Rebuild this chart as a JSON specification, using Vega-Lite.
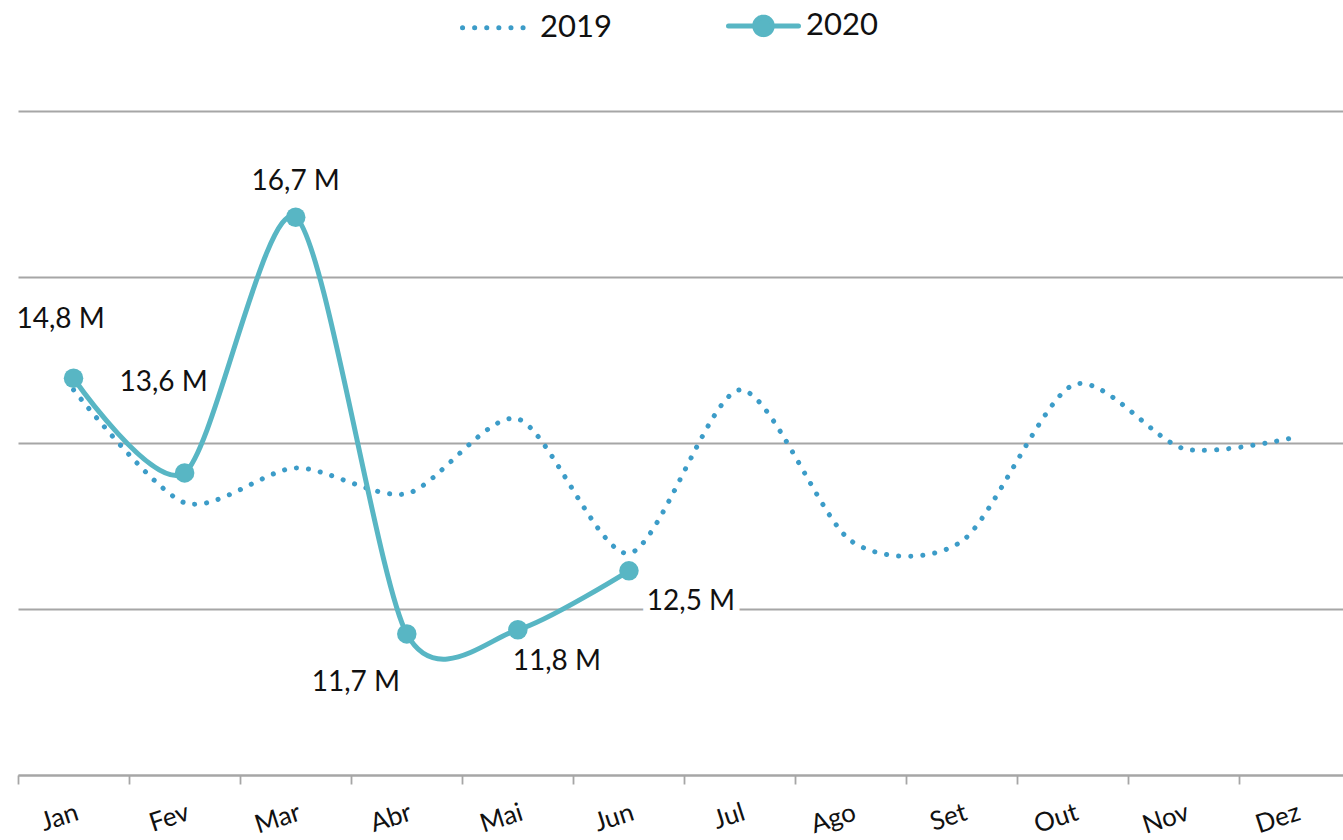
{
  "$schema": "https://vega.github.io/schema/vega-lite/v6.json",
  "width": 1325,
  "height": 664,
  "autosize": {"type": "none"},
  "padding": {"left": 18, "top": 111, "right": 0, "bottom": 65},
  "background": "white",
  "config": {"view": {"stroke": null}, "font": "Lato"},
  "data": {
    "values": [
      {"mes": "Jan", "ano": "2019", "v": 14.64},
      {"mes": "Fev", "ano": "2019", "v": 13.28},
      {"mes": "Mar", "ano": "2019", "v": 13.70},
      {"mes": "Abr", "ano": "2019", "v": 13.39},
      {"mes": "Mai", "ano": "2019", "v": 14.29},
      {"mes": "Jun", "ano": "2019", "v": 12.67},
      {"mes": "Jul", "ano": "2019", "v": 14.64},
      {"mes": "Ago", "ano": "2019", "v": 12.82},
      {"mes": "Set", "ano": "2019", "v": 12.82},
      {"mes": "Out", "ano": "2019", "v": 14.70},
      {"mes": "Nov", "ano": "2019", "v": 13.93},
      {"mes": "Dez", "ano": "2019", "v": 14.07},
      {"mes": "Jan", "ano": "2020", "v": 14.78},
      {"mes": "Fev", "ano": "2020", "v": 13.64},
      {"mes": "Mar", "ano": "2020", "v": 16.72},
      {"mes": "Abr", "ano": "2020", "v": 11.70},
      {"mes": "Mai", "ano": "2020", "v": 11.75},
      {"mes": "Jun", "ano": "2020", "v": 12.46}
    ]
  },
  "encoding": {
    "x": {
      "field": "mes", "type": "ordinal",
      "sort": ["Jan","Fev","Mar","Abr","Mai","Jun","Jul","Ago","Set","Out","Nov","Dez"],
      "scale": {"type": "band", "range": [0, 1333], "paddingInner": 0, "paddingOuter": 0},
      "axis": {
        "title": null, "grid": false, "bandPosition": 0,
        "tickSize": 9, "tickColor": "#A6A6A6", "tickWidth": 1.8,
        "domainColor": "#A6A6A6", "domainWidth": 1.8,
        "labelAngle": -18, "labelAlign": "right", "labelBaseline": "top", "labelPadding": 15,
        "labelFontSize": 26, "labelFont": "Lato", "labelColor": "#111111"
      }
    },
    "y": {
      "field": "v", "type": "quantitative",
      "scale": {"domain": [10, 18], "nice": false, "zero": false},
      "axis": {
        "title": null, "values": [10, 12, 14, 16, 18], "grid": true,
        "gridColor": "#A6A6A6", "gridWidth": 1.8,
        "labels": false, "ticks": false, "domain": false
      }
    }
  },
  "layer": [
    {
      "transform": [{"filter": "datum.ano == '2019'"}],
      "mark": {"type": "line", "interpolate": "cardinal", "tension": 0.2, "strokeWidth": 5, "strokeDash": [0.1, 12], "strokeCap": "round"},
      "encoding": {
        "color": {
          "field": "ano", "type": "nominal",
          "scale": {"domain": ["2019", "2020"], "range": ["#3C9CC8", "#58B6C4"]},
          "legend": {
            "title": null, "orient": "none", "legendX": 442, "legendY": -123,
            "direction": "horizontal", "symbolSize": 4900, "symbolStrokeWidth": 5,
            "labelFontSize": 31, "labelFont": "Lato", "labelColor": "#111111",
            "labelOffset": 5, "columnPadding": 106, "padding": 0,
            "encode": {
              "symbols": {
                "update": {
                  "shape": {"signal": "datum.value == '2020' ? 'M-1,0L1,0M-0.25,0A0.25,0.25,0,1,1,0.25,0A0.25,0.25,0,1,1,-0.25,0Z' : 'M-1,0L1,0'"},
                  "strokeDash": {"signal": "datum.value == '2019' ? [0.1, 12] : [1, 0]"},
                  "strokeCap": {"value": "round"},
                  "fill": {"signal": "datum.value == '2020' ? '#58B6C4' : 'transparent'"},
                  "opacity": {"value": 1}
                }
              }
            }
          }
        }
      }
    },
    {
      "transform": [{"filter": "datum.ano == '2020'"}],
      "mark": {"type": "line", "interpolate": "cardinal", "tension": 0.2, "strokeWidth": 5, "strokeCap": "round"},
      "encoding": {"color": {"field": "ano", "type": "nominal"}}
    },
    {
      "transform": [{"filter": "datum.ano == '2020'"}],
      "mark": {"type": "point", "filled": true, "size": 380, "opacity": 1},
      "encoding": {"color": {"field": "ano", "type": "nominal"}}
    },
    {
      "transform": [{"filter": "datum.ano == '2020' && datum.mes == 'Jan'"}, {"calculate": "replace(format(datum.v, '.1f'), '.', ',') + ' M'", "as": "lbl"}],
      "mark": {"type": "text", "fontSize": 28, "font": "Lato", "color": "#111111", "dx": -13, "dy": -58},
      "encoding": {"text": {"field": "lbl"}}
    },
    {
      "transform": [{"filter": "datum.ano == '2020' && datum.mes == 'Fev'"}, {"calculate": "replace(format(datum.v, '.1f'), '.', ',') + ' M'", "as": "lbl"}],
      "mark": {"type": "text", "fontSize": 28, "font": "Lato", "color": "#111111", "dx": -21, "dy": -90},
      "encoding": {"text": {"field": "lbl"}}
    },
    {
      "transform": [{"filter": "datum.ano == '2020' && datum.mes == 'Mar'"}, {"calculate": "replace(format(datum.v, '.1f'), '.', ',') + ' M'", "as": "lbl"}],
      "mark": {"type": "text", "fontSize": 28, "font": "Lato", "color": "#111111", "dx": 0, "dy": -35},
      "encoding": {"text": {"field": "lbl"}}
    },
    {
      "transform": [{"filter": "datum.ano == '2020' && datum.mes == 'Abr'"}, {"calculate": "replace(format(datum.v, '.1f'), '.', ',') + ' M'", "as": "lbl"}],
      "mark": {"type": "text", "fontSize": 28, "font": "Lato", "color": "#111111", "dx": -51, "dy": 49},
      "encoding": {"text": {"field": "lbl"}}
    },
    {
      "transform": [{"filter": "datum.ano == '2020' && datum.mes == 'Mai'"}, {"calculate": "replace(format(datum.v, '.1f'), '.', ',') + ' M'", "as": "lbl"}],
      "mark": {"type": "text", "fontSize": 28, "font": "Lato", "color": "#111111", "dx": 39, "dy": 32},
      "encoding": {"text": {"field": "lbl"}}
    },
    {
      "transform": [{"filter": "datum.ano == '2020' && datum.mes == 'Jun'"}, {"calculate": "replace(format(datum.v, '.1f'), '.', ',') + ' M'", "as": "lbl"}],
      "mark": {"type": "text", "fontSize": 28, "font": "Lato", "color": "white", "stroke": "white", "strokeWidth": 14, "dx": 62, "dy": 31},
      "encoding": {"text": {"field": "lbl"}}
    },
    {
      "transform": [{"filter": "datum.ano == '2020' && datum.mes == 'Jun'"}, {"calculate": "replace(format(datum.v, '.1f'), '.', ',') + ' M'", "as": "lbl"}],
      "mark": {"type": "text", "fontSize": 28, "font": "Lato", "color": "#111111", "dx": 62, "dy": 31},
      "encoding": {"text": {"field": "lbl"}}
    }
  ]
}
